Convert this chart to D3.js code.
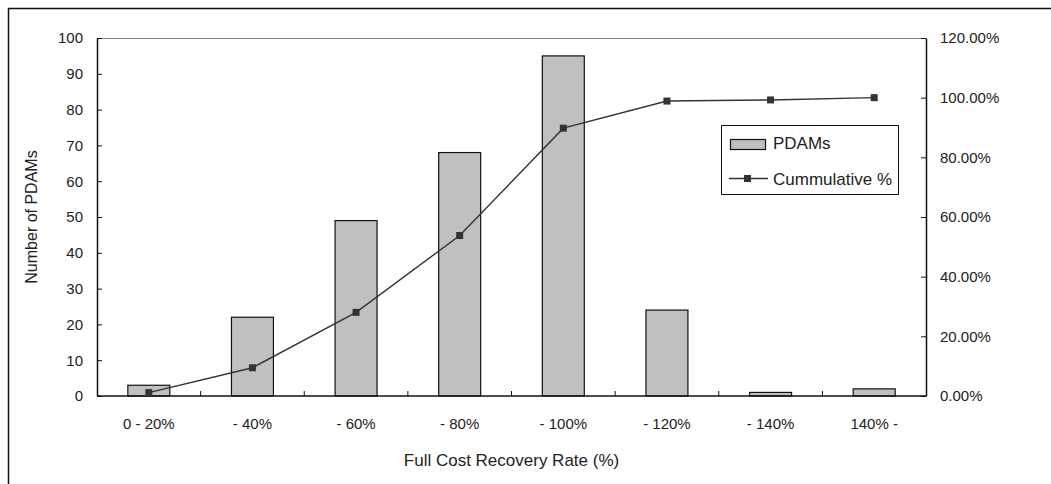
<!DOCTYPE html>
<html>
<head>
<meta charset="utf-8">
<script src="https://cdn.jsdelivr.net/npm/d3@7"></script>
<style>
  html, body { margin: 0; padding: 0; background: #fff; }
  svg { display: block; }
  text { font-family: "Liberation Sans", Arial, sans-serif; fill: #222; }
</style>
</head>
<body>
<svg id="chart" width="1051" height="484"></svg>
<script>
const categories = ["0 - 20%", "- 40%", "- 60%", "- 80%", "- 100%", "- 120%", "- 140%", "140% -"];
const pdams = [3, 22, 49, 68, 95, 24, 1, 2];
const cumulative = [0.0114, 0.0947, 0.2803, 0.5379, 0.8977, 0.9886, 0.9924, 1.0];
const leftTicks = [0, 10, 20, 30, 40, 50, 60, 70, 80, 90, 100];
const rightTicks = [0, 0.2, 0.4, 0.6, 0.8, 1.0, 1.2];

const svg = d3.select("#chart");
const L = 97, R = 926, T = 38, B = 396;

// outer border
svg.append("rect").attr("x", 8.5).attr("y", 8.5).attr("width", 1100).attr("height", 600)
  .attr("fill", "none").attr("stroke", "#111").attr("stroke-width", 1.5);

const x = d3.scaleBand().domain(categories).range([L, R]).paddingInner(0.595).paddingOuter(0.2975);
const y = d3.scaleLinear().domain([0, 100]).range([B, T]);
const y2 = d3.scaleLinear().domain([0, 1.2]).range([B, T]);
const step = x.step();

// top plot border (gray)
svg.append("line").attr("x1", L).attr("x2", R).attr("y1", T + 0.5).attr("y2", T + 0.5)
  .attr("stroke", "#808080").attr("stroke-width", 1);

// bars
svg.append("g").selectAll("rect").data(pdams).join("rect")
  .attr("x", (d, i) => x(categories[i]))
  .attr("y", d => y(d))
  .attr("width", x.bandwidth())
  .attr("height", d => B - y(d))
  .attr("fill", "#c0c0c0").attr("stroke", "#111").attr("stroke-width", 1.2);

// left axis
const gl = svg.append("g").attr("transform", `translate(${L},0)`)
  .call(d3.axisLeft(y).tickValues(leftTicks).tickSizeInner(-5).tickSizeOuter(0).tickPadding(14));
// right axis
const gr = svg.append("g").attr("transform", `translate(${R},0)`)
  .call(d3.axisRight(y2).tickValues(rightTicks).tickSizeInner(-5).tickSizeOuter(0).tickPadding(14).tickFormat(d3.format(".2%")));
[gl, gr].forEach(g => {
  g.select(".domain").attr("stroke", "#111").attr("stroke-width", 1.5);
  g.selectAll(".tick line").attr("stroke", "#111").attr("stroke-width", 1);
  g.selectAll(".tick text").attr("font-size", 15).attr("fill", "#222")
    .attr("font-family", '"Liberation Sans", Arial, sans-serif');
});

// bottom axis
const gb = svg.append("g");
gb.append("line").attr("x1", L).attr("x2", R).attr("y1", B).attr("y2", B)
  .attr("stroke", "#111").attr("stroke-width", 1.5);
gb.selectAll("line.tk").data(categories.slice(1)).join("line").attr("class", "tk")
  .attr("x1", d => x(d) - step * x.paddingInner() / 2)
  .attr("x2", d => x(d) - step * x.paddingInner() / 2)
  .attr("y1", B).attr("y2", B - 5).attr("stroke", "#111").attr("stroke-width", 1);
gb.selectAll("text").data(categories).join("text")
  .attr("x", d => x(d) + x.bandwidth() / 2).attr("y", 429)
  .attr("text-anchor", "middle").attr("font-size", 15).text(d => d);

// cumulative line
const line = d3.line().x((d, i) => x(categories[i]) + x.bandwidth() / 2).y(d => y2(d));
svg.append("path").datum(cumulative).attr("d", line)
  .attr("fill", "none").attr("stroke", "#333").attr("stroke-width", 1.4);
svg.append("g").selectAll("rect").data(cumulative).join("rect")
  .attr("x", (d, i) => x(categories[i]) + x.bandwidth() / 2 - 3.5)
  .attr("y", d => y2(d) - 3.5)
  .attr("width", 7).attr("height", 7).attr("fill", "#333");

// axis titles
svg.append("text").attr("x", (L + R) / 2).attr("y", 466).attr("text-anchor", "middle")
  .attr("font-size", 17).text("Full Cost Recovery Rate (%)");
svg.append("text").attr("transform", `translate(37,${(T + B) / 2}) rotate(-90)`)
  .attr("text-anchor", "middle").attr("font-size", 16).text("Number of PDAMs");

// legend
const lg = svg.append("g");
lg.append("rect").attr("x", 721.5).attr("y", 125.5).attr("width", 177).attr("height", 69)
  .attr("fill", "#fff").attr("stroke", "#111").attr("stroke-width", 1);
lg.append("rect").attr("x", 730.5).attr("y", 139.5).attr("width", 35).attr("height", 10)
  .attr("fill", "#c0c0c0").attr("stroke", "#111").attr("stroke-width", 1.2);
lg.append("text").attr("x", 773).attr("y", 149).attr("font-size", 17).text("PDAMs");
lg.append("line").attr("x1", 729).attr("x2", 768).attr("y1", 178.5).attr("y2", 178.5)
  .attr("stroke", "#333").attr("stroke-width", 1.4);
lg.append("rect").attr("x", 744).attr("y", 175).attr("width", 7).attr("height", 7).attr("fill", "#333");
lg.append("text").attr("x", 773).attr("y", 185).attr("font-size", 17).text("Cummulative %");
</script>
</body>
</html>
